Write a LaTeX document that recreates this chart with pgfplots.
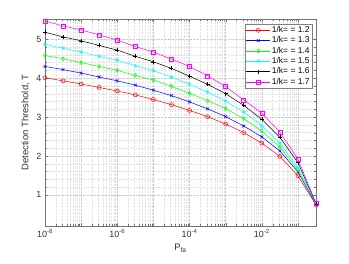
\documentclass[border=0pt]{standalone}
\usepackage{pgfplots}
\pgfplotsset{compat=1.18}
\usepackage{pgfplotstable}
\usepackage{fontspec}
\setmainfont{Liberation Sans}
\definecolor{mred}{rgb}{1,0,0}
\definecolor{mblue}{rgb}{0,0,1}
\definecolor{mgreen}{rgb}{0,1,0}
\definecolor{mcyan}{rgb}{0,1,1}
\definecolor{mblack}{rgb}{0,0,0}
\definecolor{mmag}{rgb}{1,0,1}

\pgfplotstableread{
x          r     b     g     c     k     m
1e-8       4.01  4.30  4.58  4.87  5.18  5.47
3.1623e-8  3.93  4.22  4.50  4.77  5.06  5.34
1e-7       3.85  4.13  4.40  4.67  4.96  5.24
3.1623e-7  3.76  4.03  4.30  4.56  4.84  5.11
1e-6       3.67  3.93  4.20  4.46  4.72  4.98
3.1623e-6  3.57  3.82  4.07  4.32  4.56  4.81
1e-5       3.45  3.69  3.95  4.19  4.42  4.67
3.1623e-5  3.32  3.55  3.79  4.03  4.25  4.49
1e-4       3.17  3.39  3.61  3.84  4.05  4.30
3.1623e-4  3.01  3.21  3.42  3.64  3.84  4.06
1e-3       2.82  3.01  3.22  3.41  3.60  3.78
3.1623e-3  2.60  2.77  2.96  3.13  3.30  3.44
1e-2       2.33  2.49  2.64  2.78  2.94  3.10
3.1623e-2  1.99  2.13  2.23  2.33  2.48  2.61
1e-1       1.49  1.59  1.64  1.71  1.83  1.92
3.1623e-1  0.74  0.75  0.76  0.76  0.77  0.78
}\data

\begin{document}
\begin{tikzpicture}
\useasboundingbox (-45bp,-38bp) rectangle (304bp,226bp);
\begin{axis}[
  at={(0,0)}, anchor=south west,
  scale only axis, width=271bp, height=207bp,
  xmode=log, xmin=1e-8, xmax=0.316228,
  ymin=0.2, ymax=5.52,
  xtick={1e-8,1e-7,1e-6,1e-5,1e-4,1e-3,1e-2,1e-1},
  xticklabels={10\textsuperscript{-8},,10\textsuperscript{-6},,10\textsuperscript{-4},,10\textsuperscript{-2},},
  ytick={1,2,3,4,5}, yticklabels={1,2,3,4,5},
  minor y tick num=4,
  grid=both,
  major grid style={densely dotted, gray!40},
  minor grid style={densely dotted, gray!22},
  tick align=inside,
  major tick length=3bp, minor tick length=1.6bp,
  axis line style={black!55, line width=0.5pt},
  tick style={black!55},
  ticklabel style={font=\fontsize{9}{10}\selectfont, text=black!80},
  xlabel={P\textsubscript{fa}},
  ylabel={Detection Threshold, T},
  label style={font=\fontsize{9.5}{11}\selectfont, text=black!80},
  legend style={at={(1,1)}, anchor=north east, xshift=-4bp, yshift=-5bp,
    font=\fontsize{8.5}{9}\selectfont, draw=black!50, inner sep=1bp,
    cells={anchor=west}, nodes={inner sep=1.2bp, text height=6.3bp, text depth=1.6bp}},
  legend image code/.code={\draw[mark repeat=2,mark phase=2] plot coordinates {(0cm,0cm) (0.43cm,0cm) (0.86cm,0cm)};},
  every axis plot/.append style={line width=0.5pt, mark size=2bp, mark options={solid, fill=none}},
]
\addplot[mred, mark=o] table[x=x,y=r] {\data};
\addplot[mblue, mark=x] table[x=x,y=b] {\data};
\addplot[mgreen, mark=diamond] table[x=x,y=g] {\data};
\addplot[mcyan, mark=asterisk] table[x=x,y=c] {\data};
\addplot[mblack, mark=+] table[x=x,y=k] {\data};
\addplot[mmag, mark=square] table[x=x,y=m] {\data};
\legend{1/k= = 1.2, 1/k= = 1.3, 1/k= = 1.4, 1/k= = 1.5, 1/k= = 1.6, 1/k= = 1.7}
\end{axis}
\end{tikzpicture}
\end{document}
